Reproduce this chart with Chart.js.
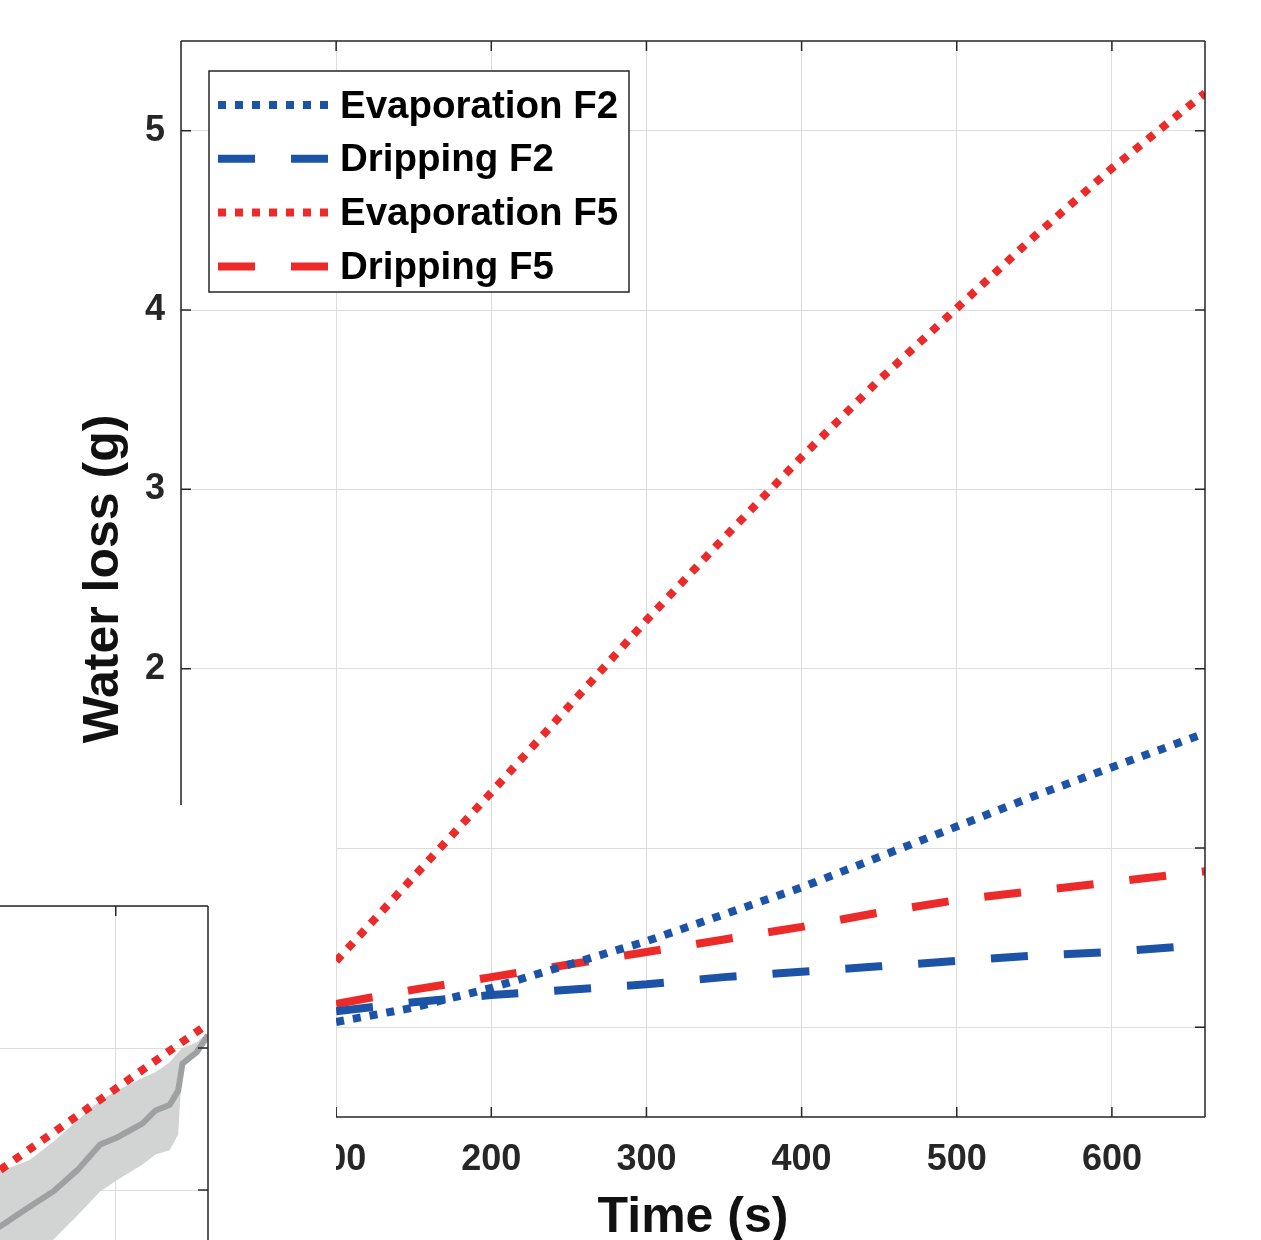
<!DOCTYPE html>
<html>
<head>
<meta charset="utf-8">
<script src="https://cdn.jsdelivr.net/npm/chart.js@4.4.1/dist/chart.umd.min.js"></script>
<style>
  html, body { margin: 0; padding: 0; background: #fff; overflow: hidden; }
  #wrap { position: relative; width: 1261px; height: 1240px; overflow: hidden; }
  #main { position: absolute; left: 0; top: 0; }
  #inset { position: absolute; left: -460px; top: 896px; }
</style>
</head>
<body>
<div id="wrap">
  <canvas id="main" width="1261" height="1240"></canvas>
  <canvas id="inset" width="680" height="600"></canvas>
</div>
<script>
// main panel data
var timeS  = [100, 150, 200, 250, 300, 350, 400, 450, 500, 550, 600, 660];
var evapF2 = [0.03, 0.11, 0.22, 0.35, 0.48, 0.63, 0.78, 0.95, 1.12, 1.29, 1.45, 1.64];
var dripF2 = [0.09, 0.14, 0.18, 0.21, 0.24, 0.28, 0.31, 0.34, 0.37, 0.40, 0.42, 0.46];
var evapF5 = [0.37, 0.84, 1.31, 1.79, 2.27, 2.73, 3.18, 3.61, 4.01, 4.41, 4.79, 5.21];
var dripF5 = [0.13, 0.21, 0.28, 0.35, 0.42, 0.49, 0.56, 0.64, 0.71, 0.76, 0.81, 0.87];
var xTicks = [0, 100, 200, 300, 400, 500, 600];
var yTicks = [0, 1, 2, 3, 4, 5];

// overlapping inset panel (only its upper-right corner is in view)
var insetX      = [2.76, 3.18, 3.39, 3.56, 3.73, 3.89, 4.01, 4.19, 4.28, 4.38, 4.44, 4.47, 4.57, 4.65];
var insetMean   = [1.58, 1.74, 1.88, 1.99, 2.14, 2.32, 2.37, 2.47, 2.56, 2.60, 2.70, 2.89, 2.97, 3.09];
var insetUpper  = [1.97, 2.13, 2.21, 2.34, 2.49, 2.63, 2.70, 2.79, 2.83, 2.90, 2.97, 3.00, 3.04, 3.11];
var insetLower  = [1.01, 1.23, 1.40, 1.65, 1.82, 1.99, 2.07, 2.18, 2.25, 2.28, 2.39, 2.90, 2.99, 3.07];
var insetModelX = [2.5, 4.65];
var insetModel  = [1.66, 3.17];
var insetXTicks = [0, 1, 2, 3, 4];
var insetYTicks = [0, 1, 2, 3, 4];

var BLUE = 'rgb(29,83,167)';
var RED = 'rgb(237,42,42)';
var AXIS = '#262626';
var GRID = '#dcdcdc';
var DOT = [8, 9];
var DASH = [37, 36];

Chart.defaults.font.family = '"Liberation Sans", Arial, sans-serif';
Chart.defaults.font.weight = 'bold';
Chart.defaults.color = AXIS;

function pts(xs, ys) {
  return xs.map(function(x, i) { return { x: x, y: ys[i] }; });
}

function line(label, ys, color, dash) {
  return {
    label: label,
    data: pts(timeS, ys),
    borderColor: color,
    borderWidth: 8,
    borderDash: dash,
    pointRadius: 0,
    tension: 0,
    fill: false
  };
}

// box on all four sides with inward ticks (matlab look)
function drawFrame(chart, tl, sides) {
  var ctx = chart.ctx, a = chart.chartArea;
  var xs = chart.scales.x, ys = chart.scales.y;
  ctx.save();
  ctx.strokeStyle = AXIS;
  ctx.lineWidth = 1.5;
  ctx.beginPath();
  if (sides.top) { ctx.moveTo(a.left, a.top); ctx.lineTo(a.right, a.top); }
  if (sides.right) { ctx.moveTo(a.right, a.top); ctx.lineTo(a.right, a.bottom); }
  if (sides.left) { ctx.moveTo(a.left, a.top); ctx.lineTo(a.left, a.bottom); }
  if (sides.bottom) { ctx.moveTo(a.left, a.bottom); ctx.lineTo(a.right, a.bottom); }
  xs.ticks.forEach(function(t) {
    var px = xs.getPixelForValue(t.value);
    if (sides.top) { ctx.moveTo(px, a.top); ctx.lineTo(px, a.top + tl); }
    if (sides.bottom) { ctx.moveTo(px, a.bottom); ctx.lineTo(px, a.bottom - tl); }
  });
  ys.ticks.forEach(function(t) {
    var py = ys.getPixelForValue(t.value);
    if (sides.left) { ctx.moveTo(a.left, py); ctx.lineTo(a.left + tl, py); }
    if (sides.right) { ctx.moveTo(a.right, py); ctx.lineTo(a.right - tl, py); }
  });
  ctx.stroke();
  ctx.restore();
}

var mainPlugin = {
  id: 'mainExtras',
  afterDraw: function(chart) {
    var ctx = chart.ctx;
    drawFrame(chart, 10, { top: true, right: true, left: true, bottom: true });

    // legend box in the upper left corner
    var bx = 209, by = 71, bw = 420, bh = 221, rowH = 53.8;
    ctx.save();
    ctx.fillStyle = '#fff';
    ctx.fillRect(bx, by, bw, bh);
    ctx.strokeStyle = AXIS;
    ctx.lineWidth = 1.5;
    ctx.strokeRect(bx, by, bw, bh);
    ctx.font = 'bold 38.5px "Liberation Sans", Arial, sans-serif';
    ctx.textBaseline = 'middle';
    chart.data.datasets.forEach(function(ds, i) {
      var y = by + 34 + i * rowH;
      ctx.save();
      ctx.strokeStyle = ds.borderColor;
      ctx.lineWidth = ds.borderWidth;
      ctx.setLineDash(ds.borderDash);
      ctx.beginPath();
      ctx.moveTo(218, y);
      ctx.lineTo(328, y);
      ctx.stroke();
      ctx.restore();
      ctx.fillStyle = '#000';
      ctx.fillText(ds.label, 340, y + 2);
    });
    ctx.restore();

    // blank area where the neighbouring panel overlaps
    ctx.save();
    ctx.fillStyle = '#fff';
    ctx.fillRect(0, 805, 336, 435);
    ctx.restore();
  }
};

new Chart(document.getElementById('main'), {
  type: 'line',
  data: {
    datasets: [
      line('Evaporation F2', evapF2, BLUE, DOT),
      line('Dripping F2', dripF2, BLUE, DASH),
      line('Evaporation F5', evapF5, RED, DOT),
      line('Dripping F5', dripF5, RED, DASH)
    ]
  },
  options: {
    responsive: false,
    animation: false,
    devicePixelRatio: 1,
    layout: { padding: { top: 41, right: 56, left: 0, bottom: 0 } },
    plugins: { legend: { display: false }, tooltip: { enabled: false } },
    scales: {
      x: {
        type: 'linear',
        min: 0,
        max: 660,
        afterBuildTicks: function(s) { s.ticks = xTicks.map(function(v) { return { value: v }; }); },
        afterFit: function(s) { s.height = 123; },
        ticks: { font: { size: 36, weight: 'bold' }, color: AXIS, padding: 21, maxRotation: 0 },
        grid: { color: GRID, lineWidth: 1, drawTicks: false },
        border: { display: false },
        title: {
          display: true,
          text: 'Time (s)',
          color: '#111',
          font: { size: 50, weight: 'bold', lineHeight: 0.88 },
          padding: { top: 0, bottom: 0 }
        }
      },
      y: {
        type: 'linear',
        min: -0.5,
        max: 5.5,
        afterBuildTicks: function(s) { s.ticks = yTicks.map(function(v) { return { value: v }; }); },
        afterFit: function(s) { s.width = 181; },
        ticks: { font: { size: 36, weight: 'bold' }, color: AXIS, padding: 16 },
        grid: { color: GRID, lineWidth: 1, drawTicks: false },
        border: { display: false },
        title: {
          display: true,
          text: 'Water loss (g)',
          color: '#111',
          font: { size: 50, weight: 'bold', lineHeight: 1 },
          padding: { top: 79, bottom: 0 }
        }
      }
    }
  },
  plugins: [mainPlugin]
});

var insetPlugin = {
  id: 'insetFrame',
  afterDraw: function(chart) {
    drawFrame(chart, 10, { top: true, right: true, left: false, bottom: false });
  }
};

new Chart(document.getElementById('inset'), {
  type: 'line',
  data: {
    datasets: [
      { label: 'model', data: pts(insetModelX, insetModel), borderColor: RED, borderWidth: 8,
        borderDash: DOT, pointRadius: 0, fill: false, order: 0 },
      { label: 'mean', data: pts(insetX, insetMean), borderColor: 'rgb(158,161,161)', borderWidth: 6,
        pointRadius: 0, fill: false, order: 1 },
      { label: 'upper', data: pts(insetX, insetUpper), borderWidth: 0, borderColor: 'rgba(0,0,0,0)',
        backgroundColor: 'rgb(210,212,212)', pointRadius: 0, fill: '+1', order: 2 },
      { label: 'lower', data: pts(insetX, insetLower), borderWidth: 0, borderColor: 'rgba(0,0,0,0)',
        pointRadius: 0, fill: false, order: 3 }
    ]
  },
  options: {
    responsive: false,
    animation: false,
    devicePixelRatio: 1,
    layout: { padding: { top: 10, right: 12, left: 8, bottom: 22 } },
    plugins: { legend: { display: false }, tooltip: { enabled: false } },
    scales: {
      x: {
        type: 'linear', min: 0, max: 4.65,
        afterBuildTicks: function(s) { s.ticks = insetXTicks.map(function(v) { return { value: v }; }); },
        afterFit: function(s) { s.height = 0; },
        ticks: { display: false },
        grid: { color: GRID, lineWidth: 1, drawTicks: false },
        border: { display: false }
      },
      y: {
        type: 'linear', min: 0, max: 4,
        afterBuildTicks: function(s) { s.ticks = insetYTicks.map(function(v) { return { value: v }; }); },
        afterFit: function(s) { s.width = 0; },
        ticks: { display: false },
        grid: { color: GRID, lineWidth: 1, drawTicks: false },
        border: { display: false }
      }
    }
  },
  plugins: [insetPlugin]
});
</script>
</body>
</html>
